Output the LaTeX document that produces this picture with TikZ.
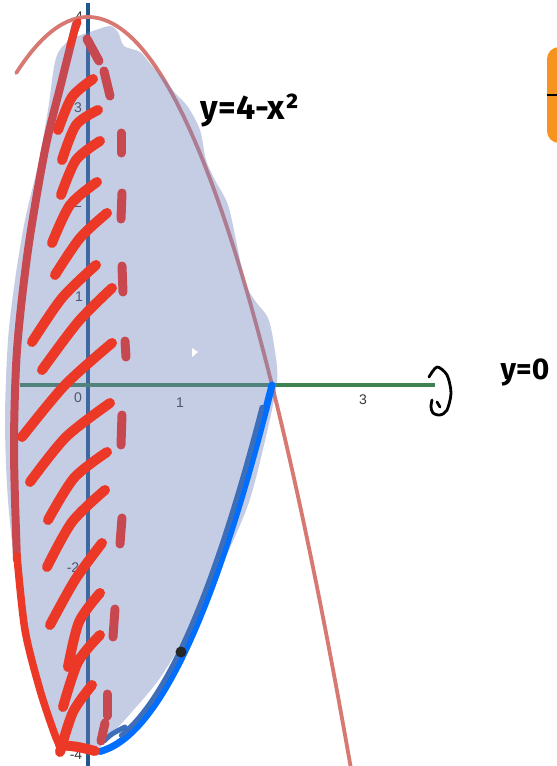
\documentclass[tikz,border=0pt]{standalone}
\usepackage{fontspec}
\newfontfamily\hand{Fira Sans}
\newfontfamily\lab{Liberation Sans}
\definecolor{blobc}{RGB}{110,130,192}
\definecolor{parabc}{RGB}{215,120,115}
\definecolor{brightred}{RGB}{236,56,38}
\definecolor{darkred}{RGB}{200,72,80}
\definecolor{yaxisc}{RGB}{30,88,140}
\definecolor{xaxisc}{RGB}{62,130,82}
\definecolor{blueA}{RGB}{0,110,255}
\definecolor{blueB}{RGB}{60,110,185}
\definecolor{orangec}{RGB}{246,148,30}
\definecolor{labc}{RGB}{55,55,60}
\begin{document}
\begin{tikzpicture}[x=1pt,y=-1pt,line cap=round,line join=round,
  parab/.style={draw=parabc,line width=3.8pt},
  blob/.style={fill=blobc,fill opacity=0.4},
  hatchstroke/.style={draw=brightred,line width=10pt},
  dashstroke/.style={draw=darkred,line width=9pt},
  ticklab/.style={font=\lab\fontsize{14}{14}\selectfont,text=labc,inner sep=0pt},
  handlab/.style={font=\hand\bfseries\fontsize{34}{34}\selectfont,text=black,inner sep=0pt}]
\clip (0,0) rectangle (557,766);
\fill[white] (0,0) rectangle (557,766);
% axes
\coordinate (ytop) at (88,3);
\coordinate (ybot) at (88,766);
\coordinate (xl) at (20,385);
\coordinate (xr) at (435,385);
\draw[yaxisc,line width=3.2pt,line cap=butt] (ytop) -- (ybot);
\draw[xaxisc,line width=3.2pt,line cap=butt] (xl) -- (xr);
% tick labels
\node[ticklab] (l4) at (79,17) {4};
\node[ticklab] (l3) at (78,108) {3};
\node[ticklab] (l2) at (78,203) {2};
\node[ticklab] (l1) at (79,297) {1};
\node[ticklab] (l0) at (78,398) {0};
\node[ticklab] (lx1) at (180,403) {1};
\node[ticklab] (lx3) at (363,400) {3};
\node[ticklab] (lm2) at (73,568) {-2};
\node[ticklab] (lm3) at (76,660) {-3};
\node[ticklab] (lm4) at (76,755) {-4};
% parabola
\draw[parab] plot[domain=-0.78:2.95,samples=80] ({88+92*\x},{385-92*(4-\x*\x)});
% shaded blob
\fill[blob] plot[smooth cycle,tension=0.5] coordinates {
 (93,31) (110,26) (118,32) (124,46) (140,52) (152,66) (165,80) (175,93)
 (188,107) (200,130) (206,160) (215,180) (228,205) (237,245) (245,283) (256,302)
 (268,318) (274,345) (277,382) (264,445) (248,505) (222,565) (192,625)
 (160,678) (130,714) (106,740) (96,749) (70,749) (52,732) (34,670)
 (18,590) (8,500) (5,420) (8,340) (15,280) (25,220) (38,165) (48,110)
 (56,58) (70,40)};
\fill[white] (192,348) -- (198,352) -- (192,357) -- cycle;
% blue curve
\draw[blueA,line width=7pt] plot[domain=2:0.13,samples=50] ({88+92*\x},{385+92*(4-\x*\x)});
\draw[blueB,line width=5pt] plot[domain=1.93:0.4,samples=50] ({84.5+92*\x},{382+92*(4-\x*\x)});
\draw[blueB,line width=5pt] plot[smooth] coordinates {(125,727) (112,734) (104,741)};
% black dot
\fill[black!85] (181,652) circle (5.5);
% left boundary
\draw[darkred,line width=8pt] plot[smooth] coordinates {(76,24) (62,80) (45,150) (28,250) (17,350) (14,450) (17,560)};
\draw[brightred,line width=7.5pt] plot[smooth] coordinates {(17,556) (25,630) (40,690) (55,735) (62,750)};
\draw[brightred,line width=7pt] plot[smooth] coordinates {(78,22) (74,33) (70,45)};
% hatch strokes
\draw[hatchstroke] plot[smooth] coordinates {(93,79) (72,97) (58,130)};
\draw[hatchstroke] plot[smooth] coordinates {(98,110) (76,125) (62,160)};
\draw[hatchstroke] plot[smooth] coordinates {(100,141) (76,160) (61,195)};
\draw[hatchstroke] plot[smooth] coordinates {(97,182) (70,205) (52,243)};
\draw[hatchstroke] plot[smooth] coordinates {(107,213) (80,238) (55,275)};
\draw[hatchstroke] plot[smooth] coordinates {(96,265) (62,298) (32,342)};
\draw[hatchstroke] plot[smooth] coordinates {(112,288) (78,322) (42,370)};
\draw[hatchstroke] plot[smooth] coordinates {(112,343) (65,385) (22,437)};
\draw[hatchstroke] plot[smooth] coordinates {(110,403) (66,437) (30,482)};
\draw[hatchstroke] plot[smooth] coordinates {(107,452) (74,478) (48,520)};
\draw[hatchstroke] plot[smooth] coordinates {(105,490) (72,522) (47,567)};
\draw[hatchstroke] plot[smooth] coordinates {(102,543) (75,580) (50,625)};
\draw[hatchstroke] plot[smooth] coordinates {(100,593) (79,622) (68,667)};
\draw[hatchstroke] plot[smooth] coordinates {(100,635) (78,662) (63,707)};
\draw[hatchstroke] plot[smooth] coordinates {(92,685) (73,712) (60,752)};
\draw[hatchstroke] plot[smooth] coordinates {(60,745) (78,747) (95,751)};
% dark red dashes
\draw[dashstroke] (87,39) -- (99,61);
\draw[dashstroke] (104,71) -- (110,96);
\draw[dashstroke] (121,133) -- (121,153);
\draw[dashstroke] (122,193) -- (121,219);
\draw[dashstroke] (122,266) -- (123,292);
\draw[dashstroke] (125,341) -- (126,357);
\draw[dashstroke] (122,415) -- (121,445);
\draw[dashstroke] (122,518) -- (120,544);
\draw[dashstroke] (115,609) -- (113,637);
\draw[dashstroke] (107,694) -- (107,716);
\draw[dashstroke] (105,723) -- (101,741);
% rotation symbol
\draw[black,line width=2.8pt] plot[smooth] coordinates {(429,377) (437,367) (447,375) (451,393) (447,410) (440,415) (433,413) (431,407) (432,400)};
\draw[black,line width=2.8pt] (437,402) -- (440,407);
% hand labels
\node[handlab] (eq1) at (250,110) {y=4-x²};
\node[handlab,font=\hand\bfseries\fontsize{30}{30}\selectfont] (eq2) at (525,372) {y=0};
% orange button
\fill[orangec,rounded corners=12pt] (547,47) rectangle (575,143);
\coordinate (bl) at (547,95);
\coordinate (br) at (557,95);
\draw[black,line width=1.5pt,line cap=butt] (bl) -- (br);
\end{tikzpicture}
\end{document}
